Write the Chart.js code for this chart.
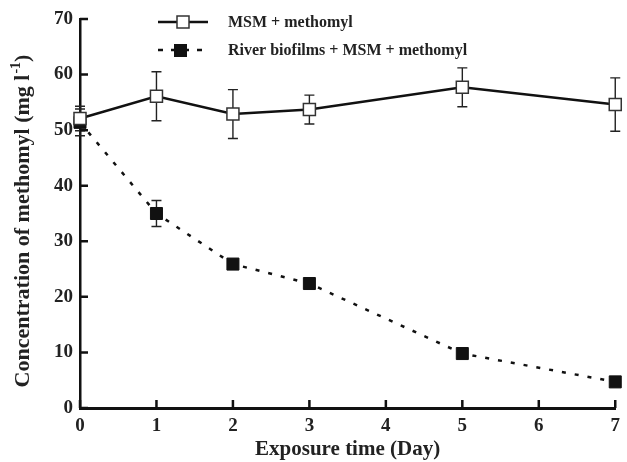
<!DOCTYPE html>
<html>
<head>
<meta charset="utf-8">
<script src="https://cdn.jsdelivr.net/npm/chart.js@4"></script>
<style>
  html, body { margin: 0; padding: 0; background: #fff; }
  #wrap { width: 627px; height: 462px; }
</style>
</head>
<body>
<div id="wrap"><canvas id="methomylChart" width="627" height="462"></canvas></div>
<script>
const days = [0, 1, 2, 3, 5, 7];
const msmValues = [52.1, 56.1, 52.9, 53.7, 57.7, 54.6];
const msmErrors = [2.2, 4.4, 4.4, 2.6, 3.5, 4.8];
const biofilmValues = [51.4, 35.0, 25.9, 22.4, 9.8, 4.7];
const biofilmErrors = [2.4, 2.35, 0, 0, 0, 0];
const xTicks = [0, 1, 2, 3, 4, 5, 6, 7];
const yTicks = [0, 10, 20, 30, 40, 50, 60, 70];
const seriesNames = ["MSM + methomyl", "River biofilms + MSM + methomyl"];

const SERIF = '"Liberation Serif", "Times New Roman", serif';

// error bars, drawn before the lines so the squares sit on top
const errorBars = {
  id: "errorBars",
  beforeDatasetsDraw(chart) {
    const ctx = chart.ctx;
    const xs = chart.scales.x, ys = chart.scales.y;
    const sets = [msmErrors, biofilmErrors];
    ctx.save();
    ctx.strokeStyle = "#222";
    ctx.lineWidth = 1.4;
    chart.data.datasets.forEach((ds, i) => {
      ds.data.forEach((p, j) => {
        const e = sets[i][j];
        if (!e) return;
        const px = xs.getPixelForValue(p.x);
        const top = ys.getPixelForValue(p.y + e);
        const bot = ys.getPixelForValue(p.y - e);
        ctx.beginPath();
        ctx.moveTo(px, top); ctx.lineTo(px, bot);
        ctx.moveTo(px - 5, top); ctx.lineTo(px + 5, top);
        ctx.moveTo(px - 5, bot); ctx.lineTo(px + 5, bot);
        ctx.stroke();
      });
    });
    ctx.restore();
  }
};

// inward tick marks on both axes
const innerTicks = {
  id: "innerTicks",
  afterDraw(chart) {
    const ctx = chart.ctx;
    const xs = chart.scales.x, ys = chart.scales.y;
    const area = chart.chartArea;
    ctx.save();
    ctx.strokeStyle = "#111";
    ctx.lineWidth = 2.5;
    ctx.beginPath();
    xTicks.forEach(v => {
      const px = xs.getPixelForValue(v);
      ctx.moveTo(px, area.bottom); ctx.lineTo(px, area.bottom - 8);
    });
    yTicks.forEach(v => {
      const py = ys.getPixelForValue(v);
      ctx.moveTo(area.left, py); ctx.lineTo(area.left + 8, py);
    });
    ctx.stroke();
    ctx.restore();
  }
};

// rotated y title with a real superscript
const yTitle = {
  id: "yTitle",
  afterDraw(chart) {
    const ctx = chart.ctx;
    const main = "Concentration of methomyl (mg l";
    const sup = "-1";
    const tail = ")";
    ctx.save();
    ctx.fillStyle = "#222";
    ctx.textBaseline = "alphabetic";
    ctx.font = "bold 22px " + SERIF;
    const wMain = ctx.measureText(main).width;
    const wTail = ctx.measureText(tail).width;
    ctx.font = "bold 14px " + SERIF;
    const wSup = ctx.measureText(sup).width;
    const total = wMain + wSup + wTail + 1;
    ctx.translate(29, 221);
    ctx.rotate(-Math.PI / 2);
    let x = -total / 2;
    ctx.font = "bold 22px " + SERIF;
    ctx.fillText(main, x, 0);
    x += wMain + 1;
    ctx.font = "bold 14px " + SERIF;
    ctx.fillText(sup, x, -9);
    x += wSup;
    ctx.font = "bold 22px " + SERIF;
    ctx.fillText(tail, x, 0);
    ctx.restore();
  }
};

// legend in the upper part of the plot
const topLegend = {
  id: "topLegend",
  afterDraw(chart) {
    const ctx = chart.ctx;
    ctx.save();
    ctx.strokeStyle = "#111";
    ctx.lineWidth = 2.5;
    // first entry
    ctx.beginPath(); ctx.moveTo(158, 22); ctx.lineTo(208, 22); ctx.stroke();
    ctx.fillStyle = "#fff"; ctx.lineWidth = 1.5; ctx.strokeStyle = "#333";
    ctx.fillRect(177, 16, 12, 12); ctx.strokeRect(177, 16, 12, 12);
    // second entry
    ctx.strokeStyle = "#111"; ctx.lineWidth = 2.5;
    ctx.setLineDash([5, 8]);
    ctx.beginPath(); ctx.moveTo(158, 50); ctx.lineTo(208, 50); ctx.stroke();
    ctx.setLineDash([]);
    ctx.fillStyle = "#111";
    ctx.fillRect(174, 44, 13, 13);
    ctx.fillStyle = "#222";
    ctx.font = "bold 16px " + SERIF;
    ctx.textBaseline = "middle";
    ctx.fillText(seriesNames[0], 228, 23);
    ctx.fillText(seriesNames[1], 228, 51);
    ctx.restore();
  }
};

new Chart(document.getElementById("methomylChart"), {
  type: "line",
  data: {
    datasets: [
      {
        label: seriesNames[0],
        data: days.map((d, i) => ({ x: d, y: msmValues[i] })),
        borderColor: "#111",
        borderWidth: 2.5,
        pointStyle: "rect",
        pointRadius: 8.5,
        pointBackgroundColor: "#fff",
        pointBorderColor: "#333",
        pointBorderWidth: 1.5,
        tension: 0,
        clip: false
      },
      {
        label: seriesNames[1],
        data: days.map((d, i) => ({ x: d, y: biofilmValues[i] })),
        borderColor: "#111",
        borderWidth: 2.5,
        borderDash: [4, 9],
        pointStyle: "rect",
        pointRadius: 8.5,
        pointBackgroundColor: "#111",
        pointBorderColor: "#111",
        pointBorderWidth: 1,
        tension: 0,
        clip: false
      }
    ]
  },
  options: {
    responsive: false,
    animation: false,
    layout: { padding: { top: 19, right: 6, left: 0, bottom: 0 } },
    plugins: {
      legend: { display: false },
      tooltip: { enabled: false }
    },
    scales: {
      x: {
        type: "linear",
        min: 0,
        max: 7,
        afterFit: s => { s.height = 54; },
        afterBuildTicks: s => { s.ticks = xTicks.map(v => ({ value: v })); },
        grid: { drawOnChartArea: false, drawTicks: false },
        border: { color: "#111", width: 3 },
        ticks: { color: "#222", padding: 7, font: { family: SERIF, size: 19, weight: "bold" } },
        title: {
          display: true,
          text: "Exposure time (Day)",
          color: "#222",
          padding: { top: 3, bottom: 0 },
          font: { family: SERIF, size: 21, weight: "bold" }
        }
      },
      y: {
        min: 0,
        max: 70,
        afterFit: s => { s.width = 80; },
        afterBuildTicks: s => { s.ticks = yTicks.map(v => ({ value: v })); },
        grid: { drawOnChartArea: false, drawTicks: false },
        border: { color: "#111", width: 2.5 },
        ticks: { color: "#222", padding: 7, font: { family: SERIF, size: 19, weight: "bold" } },
        title: { display: false }
      }
    }
  },
  plugins: [errorBars, innerTicks, yTitle, topLegend]
});
</script>
</body>
</html>
